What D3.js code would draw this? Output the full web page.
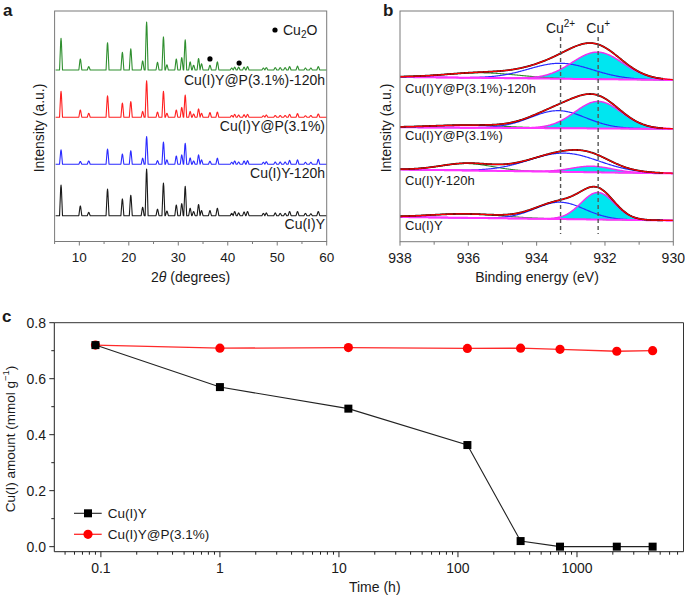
<!DOCTYPE html>
<html><head><meta charset="utf-8">
<script src="https://cdn.jsdelivr.net/npm/d3@7"></script>
<style>
body{margin:0;background:#fff}
svg{display:block}
text{font-family:"Liberation Sans",Arial,Helvetica,sans-serif;fill:#1a1a1a}
</style>
</head><body>
<svg id="chart" width="685" height="596"></svg>
<script>
// ---------------- DATA ----------------
// Panel a: XRD
const xrdPeaks = [6.3,10.2,11.9,15.7,18.7,20.4,22.8,23.6,25.8,27.0,27.7,29.6,30.7,31.4,32.4,33.1,34.1,34.7,36.4,37.9,40.8,41.4,42.2,43.3,44.0,47.2,47.8,49.6,50.6,51.6,52.5,54.1,55.7,56.8,58.3];
const xrdNames = ["Cu(I)Y@P(3.1%)-120h","Cu(I)Y@P(3.1%)","Cu(I)Y-120h","Cu(I)Y"];
const xrdOffsets = [74.4, 53.9, 33.5, 11.2];   // a.u.
const xrdMaxInt = [20.8, 15.8, 12.0, 20.2];     // a.u.
const xrdGreen = [0.66,0.23,0.07,0.57,0.37,0.44,0.19,1,0.16,0.69,0.11,0.23,0.26,0.63,0.17,0.10,0.24,0.13,0.10,0.17,0.04,0.06,0.06,0.06,0.07,0.04,0.05,0.05,0.05,0.05,0.07,0.08,0.04,0.04,0.07];
const xrdRed   = [0.71,0.20,0.11,0.59,0.39,0.43,0.16,1,0.14,0.71,0.11,0.20,0.27,0.61,0.16,0.09,0.23,0.11,0.13,0.14,0.05,0.08,0.06,0.07,0.08,0.04,0.06,0.05,0.05,0.05,0.08,0.10,0.04,0.05,0.09];
const xrdBlue  = [0.52,0.10,0.12,0.55,0.37,0.49,0.22,1,0.13,0.80,0.16,0.30,0.34,0.76,0.23,0.12,0.34,0.16,0.11,0.22,0.07,0.12,0.08,0.12,0.13,0.07,0.09,0.08,0.08,0.08,0.14,0.16,0.07,0.07,0.18];
const xrdBlack = [0.66,0.21,0.07,0.57,0.36,0.44,0.18,1,0.14,0.70,0.10,0.23,0.26,0.63,0.16,0.09,0.24,0.11,0.11,0.16,0.05,0.09,0.06,0.08,0.09,0.05,0.06,0.06,0.05,0.05,0.09,0.09,0.05,0.04,0.09];
const cu2oMarks = [[36.4,79.2],[42.3,77.4]];
const xrdTicks = [10,20,30,40,50,60];

// Panel b: XPS Cu 2p3/2 fits  [centre eV, height a.u., FWHM eV]
const xpsNames = ["Cu(I)Y@P(3.1%)-120h","Cu(I)Y@P(3.1%)","Cu(I)Y-120h","Cu(I)Y"];
const xpsBaseLeft  = [71.4, 49.6, 31.3, 10.7];
const xpsBaseRight = [70.1, 48.9, 29.6, 9.2];
const xpsCuPlus  = [[932.22,11.7,1.75],[932.20,11.7,1.6],[932.39,2.6,1.4],[932.21,11.7,1.15]];
const xpsCu2Plus = [[933.30,6.7,2.2],[933.37,7.6,1.9],[933.20,8.1,2.4],[933.32,7.3,1.7]];
const xpsSat     = [[935.6,2.2,2.5],[936.0,1.1,2.5],[936.05,3.0,1.8],[936.05,1.7,2.5]];
const xpsRefLines = [933.3, 932.2];
const xpsTicks = [938,936,934,932,930];

// Panel c: Cu(I) amount vs time
const times = [0.09,1,12,120,336,720,2160,4320];
const cuY   = [0.72,0.57,0.493,0.363,0.02,0,0,0];
const cuYP  = [0.72,0.709,0.711,0.708,0.709,0.705,0.698,0.70];
const cTimeTicks = [0.1,1,10,100,1000];
const cAmountTicks = [0,0.2,0.4,0.6,0.8];

// ---------------- DRAW ----------------
const svg = d3.select("#chart");
const frameCol = "#7a7a7a";

// ===== Panel a =====
const ax = d3.scaleLinear().domain([5,60]).range([54.6,326.7]);
const ay = d3.scaleLinear().domain([0,100]).range([241.5,11]);
const ga = svg.append("g");
const xrdCols = ["#2f8f2f","#ff2020","#2b2bff","#1a1a1a"];
const xrdRel = [xrdGreen,xrdRed,xrdBlue,xrdBlack];
xrdRel.forEach((rel,i)=>{
  const pts = [[5.2,xrdOffsets[i]]];
  xrdPeaks.forEach((p,j)=>{
    const h = rel[j]*xrdMaxInt[i];
    pts.push([p-0.3,xrdOffsets[i]],[p-0.07,xrdOffsets[i]+h*0.9],[p,xrdOffsets[i]+h],[p+0.07,xrdOffsets[i]+h*0.9],[p+0.3,xrdOffsets[i]]);
  });
  pts.push([60,xrdOffsets[i]]);
  ga.append("path")
    .attr("d",d3.line().x(d=>ax(d[0])).y(d=>ay(d[1]))(pts))
    .attr("fill","none").attr("stroke",xrdCols[i]).attr("stroke-width",1.1)
    .attr("stroke-linejoin","round");
});
ga.selectAll("circle.cu2o").data(cu2oMarks).enter().append("circle")
  .attr("cx",d=>ax(d[0])).attr("cy",d=>ay(d[1])).attr("r",2.6).attr("fill","#000");
ga.append("rect").attr("x",ax(5)).attr("y",ay(100)).attr("width",ax(60)-ax(5)).attr("height",ay(0)-ay(100))
  .attr("fill","none").attr("stroke",frameCol).attr("stroke-width",1);
d3.range(5,61,5).forEach(v=>{
  const major = v%10===0;
  ga.append("line").attr("x1",ax(v)).attr("x2",ax(v)).attr("y1",ay(0)).attr("y2",ay(0)+(major?4:2.5))
    .attr("stroke",frameCol);
});
xrdTicks.forEach(v=>{
  ga.append("text").attr("x",ax(v)).attr("y",262).attr("text-anchor","middle").attr("font-size",13.5).text(v);
});
const xla = ga.append("text").attr("x",ax(32.5)).attr("y",282).attr("text-anchor","middle").attr("font-size",14);
xla.append("tspan").text("2");
xla.append("tspan").attr("font-style","italic").text("θ");
xla.append("tspan").text(" (degrees)");
ga.append("text").attr("transform","translate(44,128) rotate(-90)").attr("text-anchor","middle").attr("font-size",14).text("Intensity (a.u.)");
const xrdLabelY = [85,131,178,229];
xrdNames.forEach((n,i)=>{
  ga.append("text").attr("x",325).attr("y",xrdLabelY[i]).attr("text-anchor","end").attr("font-size",14).text(n);
});
ga.append("circle").attr("cx",275).attr("cy",30).attr("r",2.6).attr("fill","#000");
const cuo = ga.append("text").attr("x",283).attr("y",35).attr("font-size",14);
cuo.append("tspan").text("Cu");
cuo.append("tspan").attr("font-size",10).attr("dy",3).text("2");
cuo.append("tspan").attr("dy",-3).text("O");
ga.append("text").attr("x",3).attr("y",16).attr("font-size",17).attr("font-weight","bold").text("a");

// ===== Panel b =====
const bx = d3.scaleLinear().domain([938,930]).range([400,673.3]);
const by = d3.scaleLinear().domain([0,100]).range([241.7,11]);
const gb = svg.append("g");
gb.append("clipPath").attr("id","clipb").append("rect")
  .attr("x",400).attr("y",11).attr("width",273.3).attr("height",230.7);
const gbc = gb.append("g").attr("clip-path","url(#clipb)");
const energies = d3.range(938,929.99,-0.02);
const gauss = (e,p)=>p[1]*Math.exp(-4*Math.LN2*Math.pow((e-p[0])/p[2],2));
const lineB = d3.line().x(d=>bx(d[0])).y(d=>by(d[1]));
xpsNames.forEach((n,i)=>{
  const base = e=>xpsBaseLeft[i]+(xpsBaseRight[i]-xpsBaseLeft[i])*(938-e)/8;
  const cuP = energies.map(e=>[e,base(e)+gauss(e,xpsCuPlus[i])]);
  const cu2 = energies.map(e=>[e,base(e)+gauss(e,xpsCu2Plus[i])]);
  const sat = energies.map(e=>[e,base(e)+gauss(e,xpsSat[i])]);
  const env = energies.map(e=>[e,base(e)+gauss(e,xpsCuPlus[i])+gauss(e,xpsCu2Plus[i])+gauss(e,xpsSat[i])]);
  const bl  = energies.map(e=>[e,base(e)]);
  gbc.append("path").attr("d",d3.area().x(d=>bx(d[0])).y0(d=>by(base(d[0]))).y1(d=>by(d[1]))(cuP))
    .attr("fill","#00e6f0").attr("stroke","none");
  gbc.append("path").attr("d",lineB(sat)).attr("fill","none").attr("stroke","#2e8b2e").attr("stroke-width",1.1);
  gbc.append("path").attr("d",lineB(cu2)).attr("fill","none").attr("stroke","#2a2aff").attr("stroke-width",1.2);
  gbc.append("path").attr("d",lineB(cuP)).attr("fill","none").attr("stroke","#ee30ee").attr("stroke-width",1.5);
  gbc.append("path").attr("d",lineB(bl)).attr("fill","none").attr("stroke","#ff33ff").attr("stroke-width",2);
  gbc.append("path").attr("d",lineB(env.filter(d=>d[0]>=930.3))).attr("fill","none").attr("stroke","#111").attr("stroke-width",1.8);
  gbc.append("path").attr("d",lineB(env)).attr("fill","none").attr("stroke","#ff0000").attr("stroke-width",1.2);
});
xpsRefLines.forEach(v=>{
  gb.append("line").attr("x1",bx(v)).attr("x2",bx(v)).attr("y1",37).attr("y2",234)
    .attr("stroke","#555").attr("stroke-width",1.4).attr("stroke-dasharray","4,3");
});
const c2 = gb.append("text").attr("x",bx(933.3)).attr("y",33).attr("text-anchor","middle").attr("font-size",14);
c2.append("tspan").text("Cu");
c2.append("tspan").attr("font-size",10).attr("dy",-6).text("2+");
const c1 = gb.append("text").attr("x",bx(932.2)).attr("y",33).attr("text-anchor","middle").attr("font-size",14);
c1.append("tspan").text("Cu");
c1.append("tspan").attr("font-size",10).attr("dy",-6).text("+");
gb.append("rect").attr("x",400).attr("y",11).attr("width",273.3).attr("height",230.7)
  .attr("fill","none").attr("stroke",frameCol).attr("stroke-width",1);
d3.range(930,938.5,1).forEach(v=>{
  gb.append("line").attr("x1",bx(v)).attr("x2",bx(v)).attr("y1",by(0)).attr("y2",by(0)+(v%2===0?4:3)).attr("stroke",frameCol);
});
xpsTicks.forEach(v=>{
  gb.append("text").attr("x",bx(v)).attr("y",263).attr("text-anchor","middle").attr("font-size",14).text(v);
});
gb.append("text").attr("x",537).attr("y",282).attr("text-anchor","middle").attr("font-size",14).text("Binding energy (eV)");
gb.append("text").attr("transform","translate(390.5,128) rotate(-90)").attr("text-anchor","middle").attr("font-size",14).text("Intensity (a.u.)");
const xpsLabelY = [93,140,185,230];
xpsNames.forEach((n,i)=>{
  gb.append("text").attr("x",405).attr("y",xpsLabelY[i]).attr("font-size",13).text(n);
});
gb.append("text").attr("x",383).attr("y",16).attr("font-size",17).attr("font-weight","bold").text("b");

// ===== Panel c =====
const cx = d3.scaleLog().domain([0.0406,7850]).range([54.3,683.5]);
const cy = d3.scaleLinear().domain([-0.018,0.8]).range([551.7,322.7]);
const gc = svg.append("g");
gc.append("line").attr("x1",54.3).attr("x2",683.5).attr("y1",cy(0.8)).attr("y2",cy(0.8)).attr("stroke","#333");
gc.append("line").attr("x1",683.5).attr("x2",683.5).attr("y1",cy(0.8)).attr("y2",cy(-0.018)).attr("stroke","#333");
gc.append("line").attr("x1",54.3).attr("x2",683.5).attr("y1",cy(-0.018)).attr("y2",cy(-0.018)).attr("stroke","#222");
gc.append("line").attr("x1",54.3).attr("x2",54.3).attr("y1",cy(0.8)).attr("y2",cy(-0.018)).attr("stroke","#222");
const minorT = [];
[-2,-1,0,1,2,3].forEach(k=>{ for(let m=1;m<10;m++){ const v=m*Math.pow(10,k); if(v>=0.0406 && v<=7850) minorT.push(v);} });
minorT.forEach(v=>{
  const major = cTimeTicks.some(t=>Math.abs(t-v)/t<1e-6);
  gc.append("line").attr("x1",cx(v)).attr("x2",cx(v)).attr("y1",cy(-0.018)).attr("y2",cy(-0.018)+(major?5.5:3)).attr("stroke","#222");
});
cTimeTicks.forEach(v=>{
  gc.append("text").attr("x",cx(v)).attr("y",573).attr("text-anchor","middle").attr("font-size",14).text(v);
});
d3.range(0,0.81,0.1).forEach((v,i)=>{
  gc.append("line").attr("x1",54.3).attr("x2",54.3-(i%2===0?5:3)).attr("y1",cy(v)).attr("y2",cy(v)).attr("stroke","#222");
});
cAmountTicks.forEach(v=>{
  gc.append("text").attr("x",46).attr("y",cy(v)+5).attr("text-anchor","end").attr("font-size",14).text(d3.format(".1f")(v));
});
gc.append("text").attr("x",cx(20)).attr("y",592).attr("text-anchor","middle").attr("font-size",14).text("Time (h)");
const ylc = gc.append("text").attr("transform","translate(14.5,439) rotate(-90)").attr("text-anchor","middle").attr("font-size",13.5);
ylc.append("tspan").text("Cu(I) amount (mmol g");
ylc.append("tspan").attr("font-size",9.5).attr("dy",-6).text("−1");
ylc.append("tspan").attr("dy",6).text(")");
const lineC = d3.line().x(d=>cx(d[0])).y(d=>cy(d[1]));
const ptsYP = times.map((t,i)=>[t,cuYP[i]]);
const ptsY  = times.map((t,i)=>[t,cuY[i]]);
gc.append("path").attr("d",lineC(ptsYP)).attr("fill","none").attr("stroke","#ff2a2a").attr("stroke-width",1.3);
gc.selectAll("circle.yp").data(ptsYP).enter().append("circle")
  .attr("cx",d=>cx(d[0])).attr("cy",d=>cy(d[1])).attr("r",4.6).attr("fill","#ff0000");
gc.append("path").attr("d",lineC(ptsY)).attr("fill","none").attr("stroke","#222").attr("stroke-width",1.1);
gc.selectAll("rect.y").data(ptsY).enter().append("rect")
  .attr("x",d=>cx(d[0])-4).attr("y",d=>cy(d[1])-4).attr("width",8).attr("height",8).attr("fill","#000");
const legY = [513.3,534.3];
gc.append("line").attr("x1",74).attr("x2",101.7).attr("y1",legY[0]).attr("y2",legY[0]).attr("stroke","#222").attr("stroke-width",1.1);
gc.append("rect").attr("x",84).attr("y",legY[0]-4).attr("width",8).attr("height",8).attr("fill","#000");
gc.append("text").attr("x",107.7).attr("y",legY[0]+5).attr("font-size",13.5).text("Cu(I)Y");
gc.append("line").attr("x1",74).attr("x2",101.7).attr("y1",legY[1]).attr("y2",legY[1]).attr("stroke","#ff2a2a").attr("stroke-width",1.3);
gc.append("circle").attr("cx",88).attr("cy",legY[1]).attr("r",4.6).attr("fill","#ff0000");
gc.append("text").attr("x",107.7).attr("y",legY[1]+5).attr("font-size",13.5).text("Cu(I)Y@P(3.1%)");
gc.append("text").attr("x",2).attr("y",322).attr("font-size",17).attr("font-weight","bold").text("c");
</script>
</body></html>
